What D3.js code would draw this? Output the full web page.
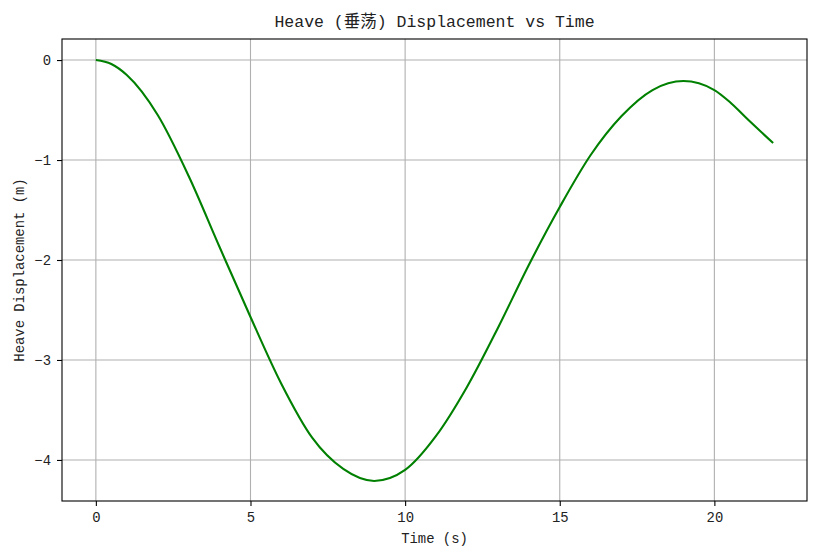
<!DOCTYPE html>
<html>
<head>
<meta charset="utf-8">
<script src="https://cdn.jsdelivr.net/npm/d3@7"></script>
<style>
  body { margin: 0; background: #fff; }
  text { font-family: "Liberation Mono", "Noto Sans CJK SC", monospace; fill: #222; }
</style>
</head>
<body>
<svg width="817" height="558"></svg>
<script>
// time (s) and heave displacement (m)
var times = [0, 0.5, 1, 2, 3, 4, 5, 6, 7, 8, 9, 10, 11, 12, 13, 14, 15, 16, 17, 18, 19, 20, 20.5, 21, 21.9];
var heave = [0, -0.04, -0.15, -0.55, -1.16, -1.87, -2.57, -3.24, -3.78, -4.09, -4.21, -4.10, -3.76, -3.27, -2.68, -2.05, -1.47, -0.95, -0.56, -0.30, -0.21, -0.30, -0.42, -0.57, -0.83];
var xTicks = [0, 5, 10, 15, 20];
var yTicks = [0, -1, -2, -3, -4];

var svg = d3.select("svg"),
  margin = { top: 39, right: 10, bottom: 57, left: 62 },
  width = +svg.attr("width") - margin.left - margin.right,
  height = +svg.attr("height") - margin.top - margin.bottom;

var x = d3.scaleLinear().domain([-1.095, 22.995]).range([0, width]),
  y = d3.scaleLinear().domain([-4.4105, 0.2105]).range([height, 0]);

var g = svg.append("g")
  .attr("transform", "translate(" + margin.left + "," + margin.top + ")");

// grid
g.append("g").selectAll("line").data(xTicks).enter().append("line")
  .attr("x1", function(d) { return x(d); }).attr("x2", function(d) { return x(d); })
  .attr("y1", 0).attr("y2", height)
  .attr("stroke", "#b0b0b0").attr("stroke-width", 1.1);
g.append("g").selectAll("line").data(yTicks).enter().append("line")
  .attr("y1", function(d) { return y(d); }).attr("y2", function(d) { return y(d); })
  .attr("x1", 0).attr("x2", width)
  .attr("stroke", "#b0b0b0").attr("stroke-width", 1.1);

var data = times.map(function(t, i) { return [t, heave[i]]; });

g.append("path")
  .datum(data)
  .attr("fill", "none")
  .attr("stroke", "#008000")
  .attr("stroke-width", 2.1)
  .attr("d", d3.line()
    .x(function(d) { return x(d[0]); })
    .y(function(d) { return y(d[1]); })
    .curve(d3.curveMonotoneX));

// axes
var xAxis = g.append("g")
  .attr("transform", "translate(0," + height + ")")
  .call(d3.axisBottom(x).tickValues(xTicks).tickSize(5).tickPadding(6).tickFormat(d3.format("d")));
var yAxis = g.append("g")
  .call(d3.axisLeft(y).tickValues(yTicks).tickSize(5).tickPadding(6)
    .tickFormat(function(d) { return d < 0 ? "\u2212" + Math.abs(d) : d; }));
[xAxis, yAxis].forEach(function(a) {
  a.select(".domain").remove();
  a.selectAll(".tick line").attr("stroke", "#000").attr("stroke-width", 1.1);
  a.selectAll(".tick text").style("font-size", "13.9px").attr("fill", "#222");
});

// frame
g.append("rect")
  .attr("width", width).attr("height", height)
  .attr("fill", "none").attr("stroke", "#000").attr("stroke-width", 1.1);

svg.append("text")
  .attr("x", margin.left + width / 2).attr("y", 27)
  .attr("text-anchor", "middle").style("font-size", "16.5px")
  .text("Heave (垂荡) Displacement vs Time");

svg.append("text")
  .attr("x", margin.left + width / 2).attr("y", 543)
  .attr("text-anchor", "middle").style("font-size", "13.9px")
  .text("Time (s)");

svg.append("text")
  .attr("transform", "translate(24," + (margin.top + height / 2) + ") rotate(-90)")
  .attr("text-anchor", "middle").style("font-size", "13.9px")
  .text("Heave Displacement (m)");
</script>
</body>
</html>
